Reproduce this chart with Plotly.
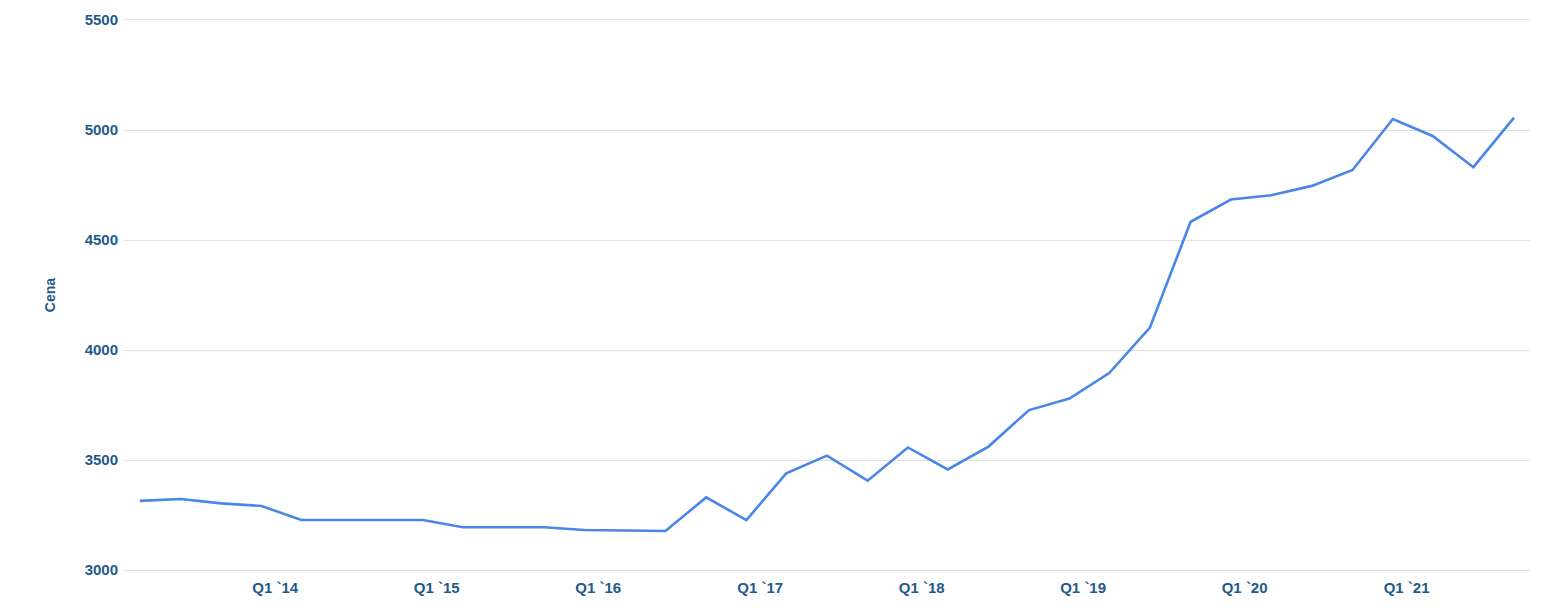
import pandas as pd
import plotly.graph_objects as go

# kwartalne ceny (punkt na ostatni miesiac kwartalu)
quarters = pd.date_range("2013-03-01", periods=35, freq="3MS")
cena = [3314, 3323, 3303, 3291, 3227, 3227, 3227, 3227, 3194, 3195,
        3194, 3182, 3180, 3177, 3330, 3227, 3439, 3520, 3406, 3557,
        3457, 3561, 3727, 3779, 3895, 4102, 4583, 4684, 4703, 4746,
        4818, 5050, 4973, 4831, 5056]

tick_vals = ["2014-01-01", "2015-01-01", "2016-01-01", "2017-01-01",
             "2018-01-01", "2019-01-01", "2020-01-01", "2021-01-01"]
tick_text = ["Q1 `14", "Q1 `15", "Q1 `16", "Q1 `17",
             "Q1 `18", "Q1 `19", "Q1 `20", "Q1 `21"]
y_ticks = [3000, 3500, 4000, 4500, 5000, 5500]

txt = "#1f5a8c"
grid = "#e0e0e0"
fnt = dict(family="Arial, Liberation Sans, sans-serif", size=15, color=txt, weight="bold")

fig = go.Figure(go.Scatter(
    x=quarters, y=cena, mode="lines",
    line=dict(color="#4a86e8", width=2.6),
    hovertemplate="%{y}<extra></extra>",
))

# strona ma 8px marginesu body, wiec figura jest o 8px mniejsza
fig.update_layout(
    width=1545, height=603,
    margin=dict(l=115, r=23, t=12, b=41),
    plot_bgcolor="white", paper_bgcolor="white",
    showlegend=False,
)
# linia dolna i gorna (plotly nie rysuje siatki na brzegach)
fig.update_xaxes(
    type="date", range=["2013-01-22", "2021-10-07"],
    tickvals=tick_vals, ticktext=tick_text,
    showgrid=False, zeroline=False,
    showline=True, mirror=True, linecolor=grid, linewidth=1,
    tickfont=fnt, ticklabelstandoff=4, automargin=False,
)
fig.update_yaxes(
    range=[3000, 5500], tickvals=y_ticks,
    showgrid=True, gridcolor=grid, gridwidth=1,
    zeroline=False, showline=False, automargin=False,
    tickfont=fnt, ticklabelstandoff=4,
    title=dict(text="Cena", standoff=25,
               font=dict(family="Arial, Liberation Sans, sans-serif", size=14, color=txt, weight="bold")),
)

fig.write_html("out.html")
